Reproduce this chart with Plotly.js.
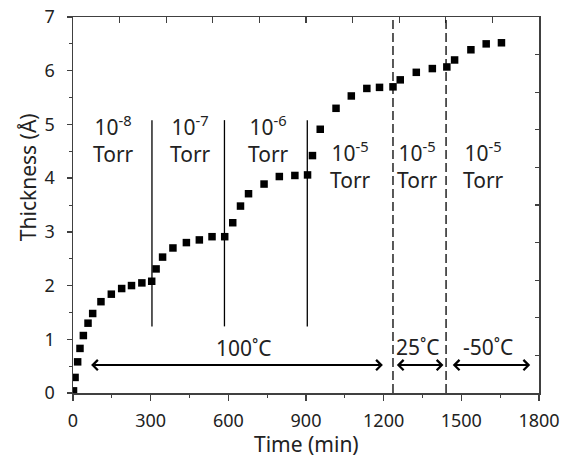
<!DOCTYPE html>
<html>
<head>
<meta charset="utf-8">
<script src="https://cdn.plot.ly/plotly-3.0.1.min.js"></script>
<style>html,body{margin:0;padding:0;background:#fff;}#chart{width:570px;height:457px;}</style>
</head>
<body>
<div id="chart"></div>
<script>
// ---- data ----
const timeMin = [2, 8, 18, 27, 40, 58, 76, 108, 148, 188, 226, 266, 304, 321, 346, 386, 438, 488, 537, 586,
  617, 647, 678, 738, 797, 857, 906, 925, 955, 1016, 1075, 1135, 1184, 1236, 1264, 1326, 1388, 1444, 1474, 1537, 1596, 1655];
const thickness = [0.04, 0.29, 0.58, 0.83, 1.07, 1.30, 1.48, 1.70, 1.84, 1.945, 2.0, 2.05, 2.08, 2.31, 2.53, 2.70, 2.80, 2.85, 2.91, 2.91,
  3.17, 3.48, 3.71, 3.89, 4.03, 4.05, 4.06, 4.42, 4.91, 5.30, 5.53, 5.67, 5.69, 5.70, 5.83, 5.97, 6.04, 6.07, 6.20, 6.39, 6.50, 6.52];

const pressureBounds = [305, 585, 905];          // solid vertical lines (min)
const pressureLineRange = [1.24, 5.08];          // thickness span of solid lines
const tempBounds = [1236, 1441];                 // dashed vertical lines (min)

const pressureExp = ['-8', '-7', '-6', '-5', '-5', '-5'];
const pressureLabelX = [157, 453, 754, 1071, 1329, 1586];
const pressureLabelY = [4.72, 4.72, 4.72, 4.25, 4.25, 4.25];

const tempLabels = ['100˚C', '25˚C', '-50˚C'];
const tempLabelX = [661, 1334, 1603];
const tempLabelY = [0.84, 0.86, 0.86];
const tempArrowStart = [64, 1245, 1461];
const tempArrowEnd = [1197, 1431, 1766];
const tempArrowY = 0.52;

const xTicks = [0, 300, 600, 900, 1200, 1500, 1800];
const yTicks = [0, 1, 2, 3, 4, 5, 6, 7];

// ---- build ----
const FONT = 'Noto Sans, sans-serif';
const TXT = '#222';

const traces = [
  {x: timeMin, y: thickness, type: 'scatter', mode: 'markers',
   marker: {symbol: 'square', size: 7.5, color: '#000'}, hoverinfo: 'x+y', showlegend: false},
  {x: [null], y: [null], xaxis: 'x2', yaxis: 'y2', type: 'scatter', mode: 'markers', showlegend: false, hoverinfo: 'skip'}
];

const shapes = [];
pressureBounds.forEach(t => shapes.push({type: 'line', xref: 'x', yref: 'y', x0: t, x1: t,
  y0: pressureLineRange[0], y1: pressureLineRange[1], line: {color: '#000', width: 1.3}}));
tempBounds.forEach(t => shapes.push({type: 'line', xref: 'x', yref: 'y', x0: t, x1: t,
  y0: 0, y1: 7, line: {color: '#000', width: 1.3, dash: '9px,4px'}}));

const annotations = [];
pressureExp.forEach((e, i) => {
  annotations.push({xref: 'x', yref: 'y', x: pressureLabelX[i], y: pressureLabelY[i], showarrow: false,
    text: '10<sup>' + e + '</sup><br>Torr', font: {family: FONT, size: 21, color: TXT},
    xanchor: 'center', yanchor: 'middle', align: 'center'});
});
tempLabels.forEach((s, i) => {
  annotations.push({xref: 'x', yref: 'y', x: tempLabelX[i], y: tempLabelY[i], showarrow: false,
    text: s, font: {family: FONT, size: 21, color: TXT}, xanchor: 'center', yanchor: 'middle'});
  annotations.push({xref: 'x', yref: 'y', axref: 'x', ayref: 'y', x: tempArrowEnd[i], y: tempArrowY,
    ax: tempArrowStart[i], ay: tempArrowY, text: '', showarrow: true, arrowside: 'end+start',
    arrowhead: 4, startarrowhead: 4, arrowsize: 1, startarrowsize: 1, arrowwidth: 2, arrowcolor: '#000',
    standoff: 0, startstandoff: 0});
});
annotations.push({xref: 'paper', yref: 'paper', x: -0.0966, y: 0.574, showarrow: false,
  text: 'Thickness (Å)', textangle: -90, font: {family: FONT, size: 21, color: TXT}, xanchor: 'center', yanchor: 'middle'});
annotations.push({xref: 'paper', yref: 'paper', x: 0.502, y: -0.136, showarrow: false,
  text: 'Time (min)', font: {family: FONT, size: 21, color: TXT}, xanchor: 'center', yanchor: 'middle'});

const axisLine = '#404040';
const layout = {
  width: 570, height: 457,
  margin: {l: 73, r: 31, t: 17, b: 64},
  paper_bgcolor: '#fff', plot_bgcolor: '#fff',
  font: {family: FONT, color: TXT},
  showlegend: false,
  xaxis: {range: [0, 1800], tickvals: xTicks, ticktext: xTicks.map(String), ticks: 'outside', ticklen: 6, tickwidth: 1.3,
    tickcolor: axisLine, showline: true, linecolor: axisLine, linewidth: 1.5, showgrid: false, zeroline: false,
    minor: {dtick: 150, tick0: 0, ticks: 'outside', ticklen: 3, tickwidth: 1, tickcolor: axisLine, showgrid: false},
    tickfont: {family: FONT, size: 18, color: TXT}, ticklabelstandoff: 5},
  yaxis: {range: [0, 7], tickvals: yTicks, ticktext: yTicks.map(String), ticks: 'outside', ticklen: 5, tickwidth: 1.3,
    tickcolor: axisLine, showline: true, linecolor: axisLine, linewidth: 1.5, showgrid: false, zeroline: false,
    minor: {dtick: 0.5, tick0: 0, ticks: 'outside', ticklen: 3, tickwidth: 1, tickcolor: axisLine, showgrid: false},
    tickfont: {family: FONT, size: 18, color: TXT}, ticklabelstandoff: 8},
  xaxis2: {overlaying: 'x', side: 'top', range: [0, 1800], dtick: 180, tick0: 0, ticks: 'inside', ticklen: 6, tickwidth: 1.3,
    tickcolor: axisLine, showline: true, linecolor: axisLine, linewidth: 1.5, showticklabels: false, showgrid: false, zeroline: false},
  yaxis2: {overlaying: 'y', side: 'right', range: [0, 7], dtick: 0.7, tick0: 0, ticks: 'inside', ticklen: 4, tickwidth: 1.3,
    tickcolor: axisLine, showline: true, linecolor: axisLine, linewidth: 1.5, showticklabels: false, showgrid: false, zeroline: false},
  shapes: shapes,
  annotations: annotations
};

Plotly.newPlot('chart', traces, layout, {displayModeBar: false, staticPlot: true});
</script>
</body>
</html>
